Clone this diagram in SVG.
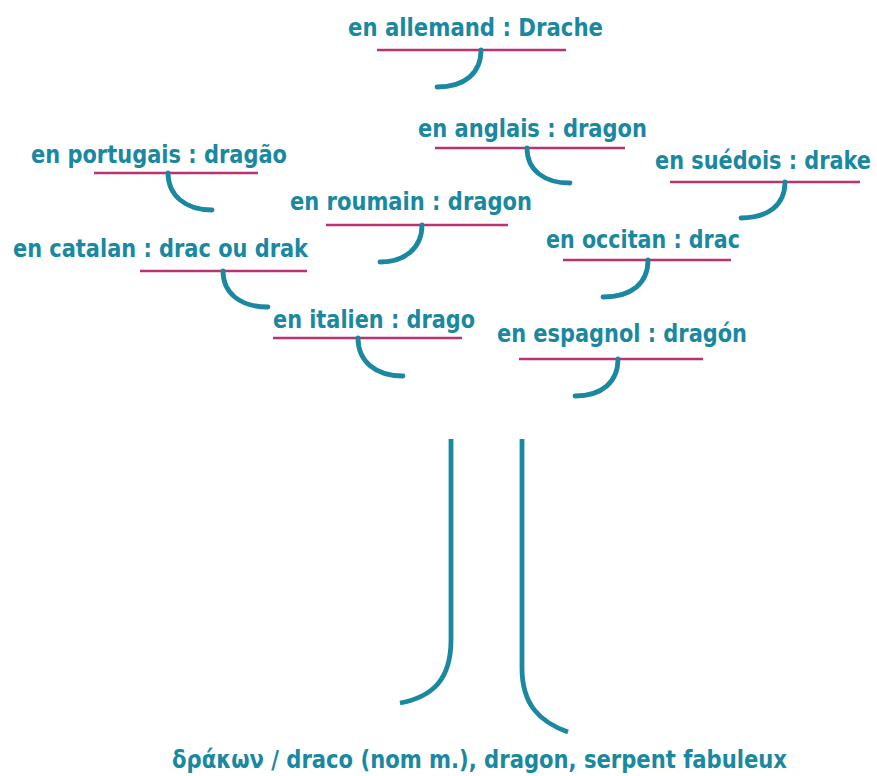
<svg xmlns="http://www.w3.org/2000/svg" width="877" height="776" viewBox="0 0 877 776">
<style>
.t{font-family:"DejaVu Sans Condensed","DejaVu Sans",sans-serif;font-weight:bold;font-size:24px;fill:#1a88a0}
.u{stroke:#b8336f;stroke-width:2.6;fill:none}
.h{stroke:#1a88a0;stroke-width:4.8;fill:none;stroke-linecap:round}
.tr{stroke:#1a88a0;stroke-width:4.8;fill:none}
</style>
<rect width="877" height="776" fill="#fff"/>
<g id="allemand"><text class="t" x="348" y="36" textLength="255" lengthAdjust="spacingAndGlyphs">en allemand : Drache</text><line class="u" x1="377" y1="50" x2="566" y2="50"/></g>
<g id="anglais"><text class="t" x="418" y="137" textLength="229" lengthAdjust="spacingAndGlyphs">en anglais : dragon</text><line class="u" x1="435" y1="148" x2="625" y2="148"/></g>
<g id="suedois"><text class="t" x="655" y="169" textLength="216" lengthAdjust="spacingAndGlyphs">en suédois : drake</text><line class="u" x1="670" y1="182" x2="860" y2="182"/></g>
<g id="portugais"><text class="t" x="31" y="163" textLength="256" lengthAdjust="spacingAndGlyphs">en portugais : dragão</text><line class="u" x1="94" y1="173" x2="258" y2="173"/></g>
<g id="roumain"><text class="t" x="290" y="210" textLength="242" lengthAdjust="spacingAndGlyphs">en roumain : dragon</text><line class="u" x1="326" y1="225" x2="508" y2="225"/></g>
<g id="occitan"><text class="t" x="546" y="248" textLength="194" lengthAdjust="spacingAndGlyphs">en occitan : drac</text><line class="u" x1="563" y1="260" x2="731" y2="260"/></g>
<g id="catalan"><text class="t" x="13" y="257" textLength="295" lengthAdjust="spacingAndGlyphs">en catalan : drac ou drak</text><line class="u" x1="140" y1="271" x2="307" y2="271"/></g>
<g id="italien"><text class="t" x="273" y="328" textLength="202" lengthAdjust="spacingAndGlyphs">en italien : drago</text><line class="u" x1="273" y1="338" x2="462" y2="338"/></g>
<g id="espagnol"><text class="t" x="497" y="342" textLength="250" lengthAdjust="spacingAndGlyphs">en espagnol : dragón</text><line class="u" x1="519" y1="359" x2="703" y2="359"/></g>
<g id="racine"><text class="t" x="172" y="768" textLength="615" lengthAdjust="spacingAndGlyphs">δράκων / draco (nom m.), dragon, serpent fabuleux</text></g>
<g id="connectors">
<path class="h" d="M481,50 C481,73 465,87 437,87"/>
<path class="h" d="M527,148 C527,170 544,183 570,183"/>
<path class="h" d="M785,182 C785,205 768,218 741,218"/>
<path class="h" d="M168,173 C168,195 185,210 212,210"/>
<path class="h" d="M422,225 C422,248 405,262 380,262"/>
<path class="h" d="M648,260 C648,283 632,297 603,297"/>
<path class="h" d="M223,271 C223,293 240,307 268,307"/>
<path class="h" d="M358,338 C358,361 375,376 403,376"/>
<path class="h" d="M618,359 C618,382 602,396 575,396"/>
<path class="tr" d="M451,439 L451,640 C451,680 432,697 400,703"/>
<path class="tr" d="M522,439 L522,668 C522,705 540,722 568,732"/>
</g>
</svg>
